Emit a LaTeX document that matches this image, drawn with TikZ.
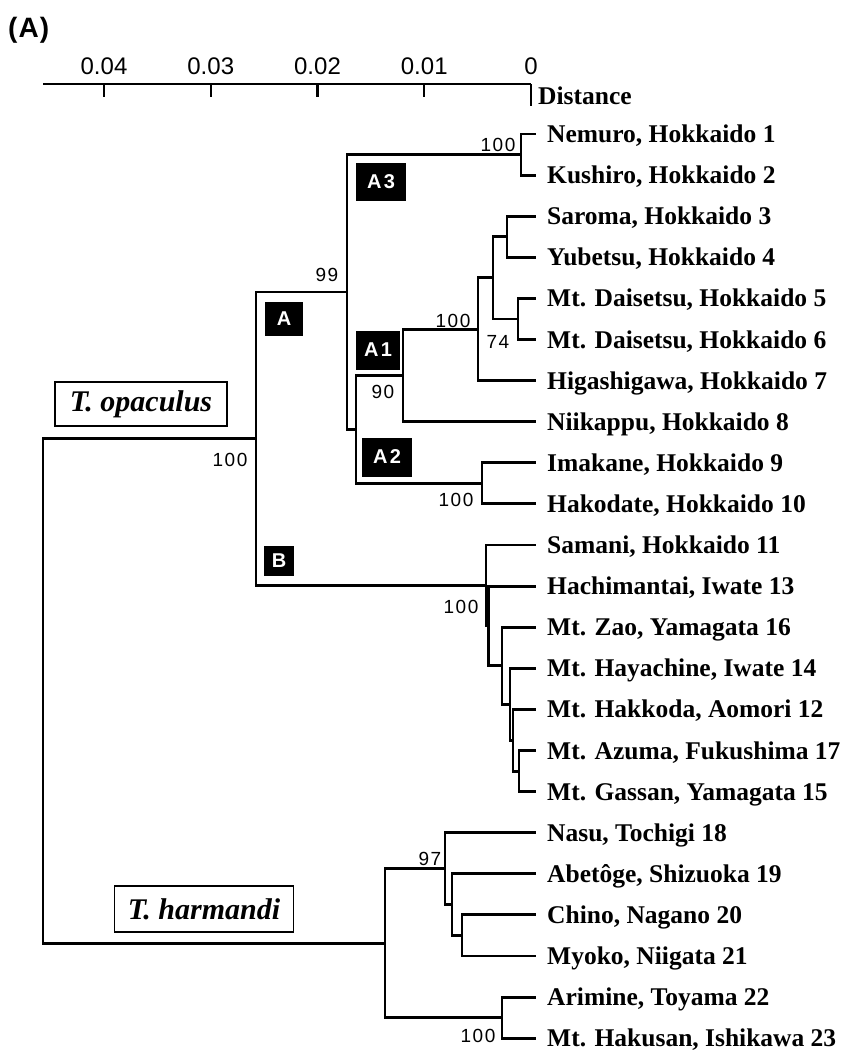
\documentclass[tikz,border=0pt]{standalone}
\usepackage{fontspec}
\setmainfont{Liberation Serif}
\newfontfamily\hv{Liberation Sans}
\newfontfamily\hvsp[LetterSpace=8]{Liberation Sans}
\newfontfamily\hvbox[LetterSpace=12]{Liberation Sans}
\newfontfamily\hvhead[LetterSpace=4]{Liberation Sans}
\tikzset{
  br/.style={line width=2.9pt, line cap=rect, line join=miter},
  axisline/.style={line width=2.6pt},
  leaf/.style={anchor=base west, inner sep=0pt, font=\fontsize{25.5}{30}\selectfont\bfseries},
  bs/.style={inner sep=0pt, font=\fontsize{19}{22}\selectfont\hvsp},
  ticklab/.style={anchor=base, inner sep=0pt, font=\fontsize{24}{28}\selectfont\hv},
  clade/.style={fill=black, text=white, inner sep=0pt, font=\fontsize{20}{22}\selectfont\hvbox\bfseries},
  species/.style={draw, line width=1.6pt, inner sep=0pt, font=\fontsize{30}{34}\selectfont\bfseries\itshape}
}
\begin{document}
\begin{tikzpicture}[x=1pt,y=-1pt]
\useasboundingbox (0,0) rectangle (848,1055);

% heading
\node[anchor=base west, inner sep=0pt, font=\fontsize{28}{32}\selectfont\hvhead\bfseries] (head) at (8,37) {(A)};

% axis
\coordinate (ax0) at (43,84);
\coordinate (ax1) at (531,84);
\draw[axisline] (ax0) -- (ax1);
\foreach \v/\x in {0.04/104, 0.03/210.75, 0.02/317.5, 0.01/424.25}{
  \draw[line width=2.4pt] (\x,84) -- (\x,97);
  \node[ticklab] at (\x,74) {\v};
}
\draw[line width=2.4pt] (ax1) -- (531,106);
\node[ticklab] (zero) at (531,74) {0};
\node[leaf] (dist) at (538,104) {Distance};

% leaves
\foreach \n/\y/\t in {
  1/134/{Nemuro, Hokkaido 1},
  2/175.1/{Kushiro, Hokkaido 2},
  3/216.2/{Saroma, Hokkaido 3},
  4/257.3/{Yubetsu, Hokkaido 4},
  5/298.4/{Mt. Daisetsu, Hokkaido 5},
  6/339.5/{Mt. Daisetsu, Hokkaido 6},
  7/380.6/{Higashigawa, Hokkaido 7},
  8/421.7/{Niikappu, Hokkaido 8},
  9/462.8/{Imakane, Hokkaido 9},
  10/503.9/{Hakodate, Hokkaido 10},
  11/545/{Samani, Hokkaido 11},
  13/586.1/{Hachimantai, Iwate 13},
  16/627.2/{Mt. Zao, Yamagata 16},
  14/668.3/{Mt. Hayachine, Iwate 14},
  12/709.4/{Mt. Hakkoda, Aomori 12},
  17/750.5/{Mt. Azuma, Fukushima 17},
  15/791.6/{Mt. Gassan, Yamagata 15},
  18/832.7/{Nasu, Tochigi 18},
  19/873.8/{Abetôge, Shizuoka 19},
  20/914.9/{Chino, Nagano 20},
  21/956/{Myoko, Niigata 21},
  22/997.1/{Arimine, Toyama 22},
  23/1038.2/{Mt. Hakusan, Ishikawa 23}}{
  \coordinate (L\n) at (535,\y);
  \node[leaf] (T\n) at (547,\y+8.5) {\t};
}

% internal nodes
\coordinate (NK)  at (521,154.55);
\coordinate (SY)  at (507,236.75);
\coordinate (D)   at (518,318.95);
\coordinate (Y)   at (493,277.85);
\coordinate (X)   at (478,329.2);
\coordinate (A1n) at (403,375.45);
\coordinate (IH)  at (482,483.35);
\coordinate (N90) at (356,429.4);
\coordinate (N99) at (347,292);
\coordinate (AG)  at (519,771.05);
\coordinate (H2)  at (513,740.2);
\coordinate (H1)  at (510,704.25);
\coordinate (Z)   at (502,665.7);
\coordinate (B2)  at (488.5,625.9);
\coordinate (Bn)  at (486,585.45);
\coordinate (An)  at (256,438.7);
\coordinate (Q)   at (462,935.45);
\coordinate (P)   at (452,904.6);
\coordinate (N97) at (445,868.65);
\coordinate (AH)  at (502,1017.65);
\coordinate (Hn)  at (385,943.15);
\coordinate (R)   at (43,690.9);

% branches
\foreach \p/\c in {R/An, R/Hn, An/N99, An/Bn, N99/NK, N99/N90, NK/L1, NK/L2,
  N90/A1n, N90/IH, A1n/X, A1n/L8, X/Y, X/L7, Y/SY, Y/D, SY/L3, SY/L4, D/L5, D/L6,
  IH/L9, IH/L10, Bn/L11, Bn/B2, B2/L13, B2/Z, Z/L16, Z/H1, H1/L14, H1/H2,
  H2/L12, H2/AG, AG/L17, AG/L15, Hn/N97, Hn/AH, N97/L18, N97/P, P/L19, P/Q,
  Q/L20, Q/L21, AH/L22, AH/L23}{
  \draw[br] (\p) |- (\c);
}

% bootstrap values
\node[bs] (b1)  at (230,460) {100};
\node[bs] (b2)  at (327,275) {99};
\node[bs] (b3)  at (498,145) {100};
\node[bs] (b4)  at (453,321) {100};
\node[bs] (b5)  at (498,342) {74};
\node[bs] (b6)  at (383,392) {90};
\node[bs] (b7)  at (456,500) {100};
\node[bs] (b8)  at (461,607) {100};
\node[bs] (b9)  at (430,859) {97};
\node[bs] (b10) at (478,1036) {100};

% clade boxes
\node[clade, minimum width=50pt, minimum height=38pt] (cA3) at (381,182) {A3};
\node[clade, minimum width=38pt, minimum height=34pt] (cA)  at (284,319) {A};
\node[clade, minimum width=44pt, minimum height=39pt] (cA1) at (378,350) {A1};
\node[clade, minimum width=50pt, minimum height=39pt] (cA2) at (387,457) {A2};
\node[clade, minimum width=30pt, minimum height=30pt] (cB)  at (279,561) {B};

% species boxes
\node[species, minimum width=172pt, minimum height=44pt] (sp1) at (141,404) {T. opaculus};
\node[species, minimum width=179pt, minimum height=46pt] (sp2) at (204,909) {T. harmandi};
\end{tikzpicture}
\end{document}
